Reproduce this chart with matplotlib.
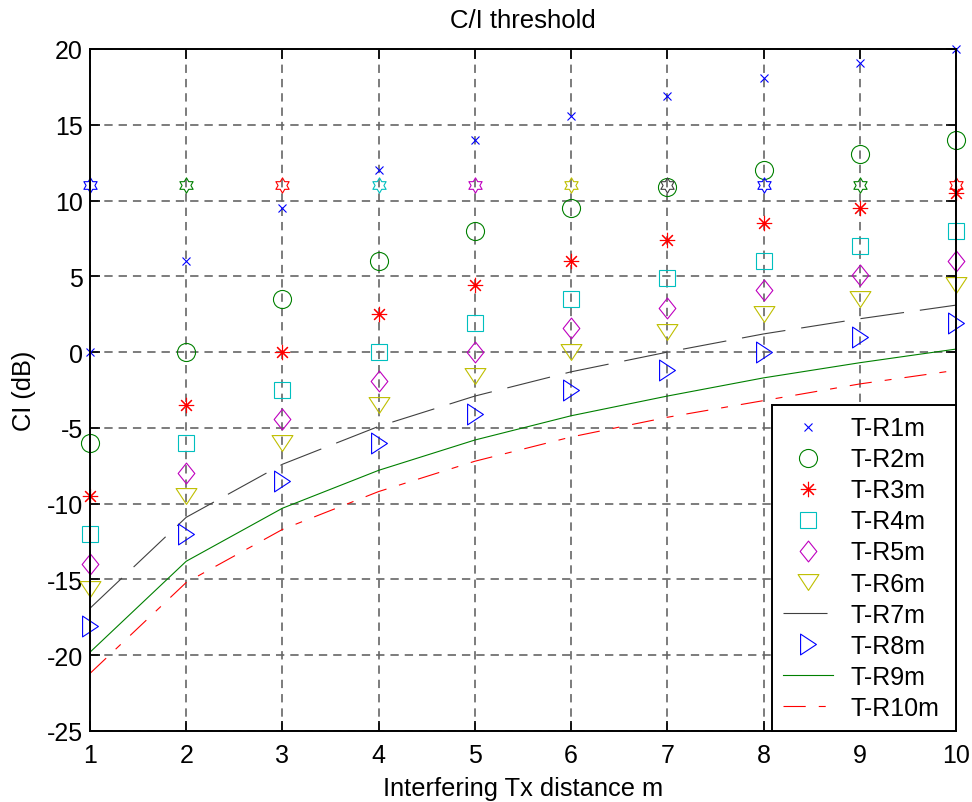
import matplotlib
matplotlib.use("Agg")
import matplotlib.pyplot as plt
from matplotlib.path import Path
import numpy as np

plt.rcParams['font.family'] = ['Liberation Sans', 'DejaVu Sans']
plt.rcParams['axes.unicode_minus'] = False
plt.rcParams['lines.scale_dashes'] = False

# ---- data ----
distance = [1, 2, 3, 4, 5, 6, 7, 8, 9, 10]
tr1 = [0.0, 6.0, 9.5, 12.0, 14.0, 15.6, 16.9, 18.1, 19.1, 20.0]
tr2 = [-6.0, 0.0, 3.5, 6.0, 8.0, 9.5, 10.9, 12.0, 13.1, 14.0]
tr3 = [-9.5, -3.5, 0.0, 2.5, 4.4, 6.0, 7.4, 8.5, 9.5, 10.5]
tr4 = [-12.0, -6.0, -2.5, 0.0, 1.9, 3.5, 4.9, 6.0, 7.0, 8.0]
tr5 = [-14.0, -8.0, -4.4, -1.9, 0.0, 1.6, 2.9, 4.1, 5.1, 6.0]
tr6 = [-15.6, -9.5, -6.0, -3.5, -1.6, 0.0, 1.3, 2.5, 3.5, 4.4]
tr7 = [-16.9, -10.9, -7.4, -4.9, -2.9, -1.3, 0.0, 1.2, 2.2, 3.1]
tr8 = [-18.1, -12.0, -8.5, -6.0, -4.1, -2.5, -1.2, 0.0, 1.0, 1.9]
tr9 = [-19.8, -13.8, -10.3, -7.8, -5.8, -4.2, -2.9, -1.7, -0.7, 0.2]
tr10 = [-21.2, -15.2, -11.7, -9.2, -7.2, -5.6, -4.3, -3.2, -2.1, -1.2]
threshold = [11, 11, 11, 11, 11, 11, 11, 11, 11, 11]
labels = ['T-R1m', 'T-R2m', 'T-R3m', 'T-R4m', 'T-R5m',
          'T-R6m', 'T-R7m', 'T-R8m', 'T-R9m', 'T-R10m']
xticks = [1, 2, 3, 4, 5, 6, 7, 8, 9, 10]
yticks = [-25, -20, -15, -10, -5, 0, 5, 10, 15, 20]

# MATLAB colours
B = (0, 0, 1)
G = (0, 0.5, 0)
R = (1, 0, 0)
C = (0, 0.75, 0.75)
M = (0.75, 0, 0.75)
Y = (0.75, 0.75, 0)
K = (0.25, 0.25, 0.25)
thr_colors = [B, G, R, C, M, Y, K, B, G, R]

# custom markers
def poly(verts):
    v = list(verts) + [verts[0]]
    codes = [Path.MOVETO] + [Path.LINETO] * (len(verts) - 1) + [Path.CLOSEPOLY]
    return Path(v, codes)

diamond = poly([(0, 1), (0.8, 0), (0, -1), (-0.8, 0)])
tri_down = poly([(-1, 0.76), (1, 0.76), (0, -0.76)])
tri_right = poly([(-0.76, 1), (0.76, 0), (-0.76, -1)])
hv = []
for i in range(12):
    ang = np.pi / 2 + i * np.pi / 6
    r = 1.0 if i % 2 == 0 else 1 / np.sqrt(3)
    hv.append((r * np.cos(ang), r * np.sin(ang)))
hexagram = poly(hv)

FS = 18

fig = plt.figure(figsize=(9.72, 8.03), dpi=100)
ax = fig.add_axes([90 / 972, 1 - 732 / 803, 866 / 972, 682 / 803])

mew = 0.8
kw = dict(linestyle='none', mew=mew, clip_on=False)
ax.plot(distance, tr1, marker='x', ms=5.5, color=B, label=labels[0], **kw)
ax.plot(distance, tr2, marker='o', ms=13, mfc='none', color=G, label=labels[1], **kw)
ax.plot(distance, tr3, marker=(8, 2, 0), ms=11, color=R, label=labels[2], **kw)
ax.plot(distance, tr4, marker='s', ms=12, mfc='none', color=C, label=labels[3], **kw)
ax.plot(distance, tr5, marker=diamond, ms=15, mfc='none', color=M, label=labels[4], **kw)
ax.plot(distance, tr6, marker=tri_down, ms=15, mfc='none', color=Y, label=labels[5], **kw)
l7, = ax.plot(distance, tr7, color=K, lw=0.8, label=labels[6])
l7.set_dashes((31.7, 11.5))
ax.plot(distance, tr8, marker=tri_right, ms=15, mfc='none', color=B, label=labels[7], **kw)
ax.plot(distance, tr9, color=G, lw=0.8, label=labels[8])
l10, = ax.plot(distance, tr10, color=R, lw=0.8, label=labels[9])
l10.set_dashes((16, 9.4, 5, 9.4))

for xi, yi, ci in zip(distance, threshold, thr_colors):
    ax.plot([xi], [yi], marker=hexagram, ms=11, mfc='none', color=ci,
            label='_nolegend_', **kw)

ax.set_xlim(1, 10)
ax.set_ylim(-25, 20)
ax.set_xticks(xticks)
ax.set_yticks(yticks)
ax.grid(True, color='#666666', lw=1.2, dashes=(6, 4.3))
ax.set_axisbelow(True)
ax.tick_params(direction='in', length=7, width=1.2, top=True, right=True,
               labelsize=FS, pad=5)
ax.tick_params(axis='x', pad=9)
for s in ax.spines.values():
    s.set_linewidth(1.4)
    s.set_color('black')

ax.set_title('C/I threshold', fontsize=18.5, pad=15.6)
ax.set_xlabel('Interfering Tx distance m', fontsize=18.3, labelpad=6)
ax.set_ylabel('CI (dB)', fontsize=18.3, labelpad=8)

leg_x0 = (772 - 90) / 866
leg = ax.legend(loc='lower right', bbox_to_anchor=(leg_x0, 0, 1 - leg_x0, 0.5),
                mode='expand', borderaxespad=0, numpoints=1, fontsize=FS,
                fancybox=False, framealpha=1, edgecolor='black',
                labelspacing=0.282, handlelength=2.0, handletextpad=0.68,
                borderpad=0.45)
leg.get_frame().set_linewidth(1.4)
leg.set_zorder(5)

fig.savefig('out.png', dpi=100)
